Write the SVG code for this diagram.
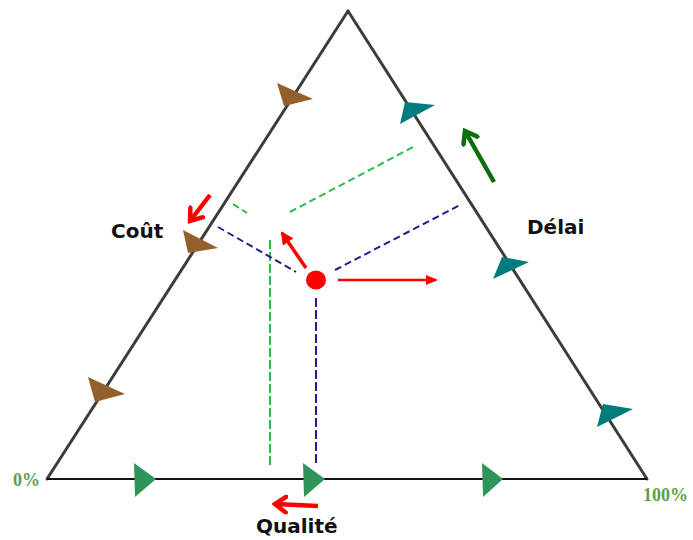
<svg xmlns="http://www.w3.org/2000/svg" width="693" height="540" viewBox="0 0 693 540">
<style>
.side{stroke:#3c3c3c;stroke-width:3;fill:none;stroke-linecap:round}
.base{stroke:#111;stroke-width:2;fill:none}
.brown{fill:#93602b}
.teal{fill:#007c7c}
.green{fill:#2f9458}
.gdash{stroke:#2cba4e;stroke-width:2;stroke-dasharray:7 4;fill:none}
.bdash{stroke:#1e1e8e;stroke-width:2;stroke-dasharray:7 4;fill:none}
.lbl{font-family:"DejaVu Sans",Verdana,sans-serif;font-weight:bold;font-size:20px;fill:#111}
.pct{font-family:"Liberation Serif","Times New Roman",serif;font-weight:bold;font-size:18px;fill:#5b9e4c}
.red{stroke:#ff0000;fill:none}
</style>
<defs>
<marker id="chevR" markerUnits="userSpaceOnUse" viewBox="0 0 16 20" refX="13" refY="10" markerWidth="16" markerHeight="20" orient="auto"><path d="M2,2 L13,10 L2,18" fill="none" stroke="#ff0000" stroke-width="4.5" stroke-linecap="round"/></marker>
<marker id="chevG" markerUnits="userSpaceOnUse" viewBox="0 0 16 20" refX="13" refY="10" markerWidth="16" markerHeight="20" orient="auto"><path d="M2,2 L13,10 L2,18" fill="none" stroke="#0b6e0b" stroke-width="4.5" stroke-linecap="round"/></marker>
<marker id="triR" markerUnits="userSpaceOnUse" viewBox="0 0 13 13" refX="11" refY="6.5" markerWidth="13" markerHeight="13" orient="auto"><path d="M0,0 L13,6.5 L0,13 Z" fill="#ff0000"/></marker>
<marker id="triRs" markerUnits="userSpaceOnUse" viewBox="0 0 12 10" refX="10" refY="5" markerWidth="12" markerHeight="10" orient="auto"><path d="M0,0 L12,5 L0,10 Z" fill="#ff0000"/></marker>
</defs>

<g id="triangle">
<line class="side" x1="47" y1="479" x2="348" y2="11"/>
<line class="side" x1="348" y1="11" x2="647" y2="479"/>
<line class="base" x1="47" y1="479" x2="647" y2="479"/>
</g>

<g id="cout-axis-marks">
<polygon class="brown" points="277,83 313,99 284,106"/>
<polygon class="brown" points="183,230 218,248 188,253"/>
<polygon class="brown" points="88,377 125,394 95,402"/>
</g>
<g id="delai-axis-marks">
<polygon class="teal" points="405,102 435,105 400,124"/>
<polygon class="teal" points="502,257 529,262 493,279"/>
<polygon class="teal" points="603,404 633,409 597,427"/>
</g>
<g id="qualite-axis-marks">
<polygon class="green" points="134,463 156,479 135,497"/>
<polygon class="green" points="303,463 325,479 304,497"/>
<polygon class="green" points="482,463 503,479 483,497"/>
</g>

<g id="connectors">
<line class="gdash" x1="290" y1="212" x2="415" y2="146"/>
<line class="gdash" x1="233" y1="204" x2="247" y2="213"/>
<line class="gdash" x1="270" y1="240" x2="270" y2="468" style="stroke-dasharray:9 3"/>
<line class="bdash" x1="218" y1="227" x2="296" y2="272"/>
<line class="bdash" x1="335" y1="270" x2="460" y2="205"/>
<line class="bdash" x1="316" y1="298" x2="316" y2="466" style="stroke-dasharray:9 3"/>
<line class="red" stroke-width="4.5" x1="210" y1="195" x2="190" y2="221" marker-end="url(#chevR)"/>
<line class="red" stroke-width="3.5" x1="306" y1="268" x2="282" y2="233" marker-end="url(#triR)"/>
<line class="red" stroke-width="2.5" x1="338" y1="280" x2="436" y2="280" marker-end="url(#triRs)"/>
<line class="red" stroke-width="4.5" x1="318" y1="506" x2="275" y2="504" marker-end="url(#chevR)"/>
<line stroke="#0b6e0b" stroke-width="4.5" x1="494" y1="182" x2="465" y2="131" marker-end="url(#chevG)"/>
</g>

<g id="point">
<ellipse cx="316" cy="280" rx="10" ry="9.5" fill="#ff0000"/>
</g>

<g id="labels">
<text class="lbl" x="111" y="238">Coût</text>
<text class="lbl" x="527" y="234">Délai</text>
<text class="lbl" x="256" y="533">Qualité</text>
<text class="pct" x="13" y="486">0%</text>
<text class="pct" x="643" y="501">100%</text>
</g>
</svg>
